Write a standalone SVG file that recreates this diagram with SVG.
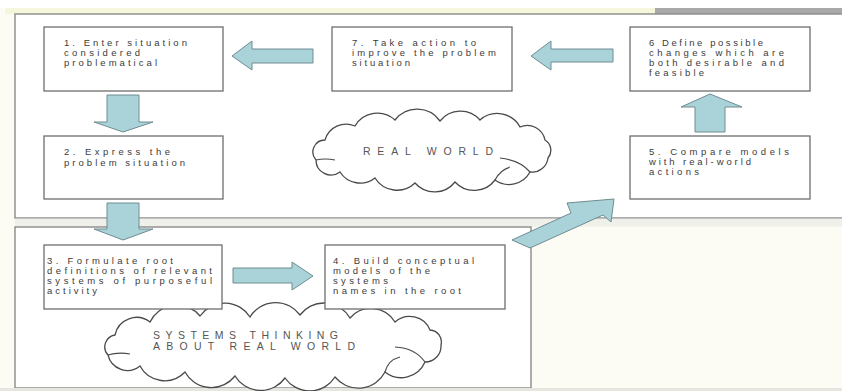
<svg xmlns="http://www.w3.org/2000/svg" width="842" height="391" viewBox="0 0 842 391">
<style>
.box{fill:#fff;stroke:#6e6e6e;stroke-width:1.3}
.t{font-family:"Liberation Sans",Arial,sans-serif;font-size:9.5px;fill:#3c3c3c}
.ct{font-family:"Liberation Sans",Arial,sans-serif;font-size:10.5px;fill:#555}
.arr{fill:#a9d3d8;stroke:#6f8c90;stroke-width:1}
.cloud{fill:#fff;stroke:#4a4a4a;stroke-width:1.3}
.inner{fill:none;stroke:#4a4a4a;stroke-width:1.2}
.frame{fill:#fff;stroke:#8a8a8a;stroke-width:1.4}
</style>
<rect x="0" y="0" width="842" height="391" fill="#fcfcf4"/>
<rect x="0" y="0" width="842" height="8" fill="#fff"/>
<rect x="5" y="8" width="650" height="6" fill="#f6f6dc"/>
<rect x="655" y="8" width="187" height="6" fill="#a8a8a8"/>
<g id="frames">
<rect x="15" y="14" width="840" height="204" class="frame"/>
<rect x="15" y="218.7" width="827" height="8" fill="#f0f0ea"/>
<rect x="15" y="227" width="516" height="161" class="frame"/>
<rect x="0" y="388" width="842" height="3" fill="#e6e6de"/>
</g>
<g id="connectors">
<polygon class="arr" points="107,95 139,95 139,122 153,122 123,132 94,122 107,122"/>
<polygon class="arr" points="107,203 139,203 139,229 153,229 123,240 94,229 107,229"/>
<polygon class="arr" points="313,49 313,63 252,63 252,70 232,56 252,41 252,49"/>
<polygon class="arr" points="613,49 613,62 551,62 551,70 531,56 551,41 551,49"/>
<polygon class="arr" points="695,132 725,132 725,107 742,107 710,94 681,107 695,107"/>
<polygon class="arr" points="233,268 292,268 292,262 313,276 292,290 292,283 233,283"/>
<polygon class="arr" points="512,240 571,213 567,203 614,199 611,222 603,215 530,248"/>
</g>
<g id="cloud-real">
<path class="cloud" d="M325,140 A22,22 0 0 1 355,126 A26,26 0 0 1 395,120 A28,28 0 0 1 440,121 A26,26 0 0 1 480,120 A26,26 0 0 1 520,127 A18,18 0 0 1 545,140 A12,12 0 0 1 548,158 A16,16 0 0 1 530,172 A24,24 0 0 1 495,180 A26,26 0 0 1 455,182 A26,26 0 0 1 415,183 A26,26 0 0 1 375,178 A24,24 0 0 1 340,172 A15,15 0 0 1 316,160 A12,12 0 0 1 325,140 Z"/>
<path class="inner" d="M316,160 Q325,158 335,160 M495,180 Q500,170 510,167 M530,172 Q520,160 500,158"/>
<text class="ct" x="363" y="155" textLength="130" lengthAdjust="spacing">REAL WORLD</text>
</g>
<g id="cloud-systems">
<path class="cloud" d="M115,335 A22,22 0 0 1 150,322 A30,30 0 0 1 200,316 A30,30 0 0 1 250,317 A30,30 0 0 1 300,315 A30,30 0 0 1 350,318 A28,28 0 0 1 395,322 A22,22 0 0 1 430,330 A12,12 0 0 1 441,345 A16,16 0 0 1 425,362 A26,26 0 0 1 385,372 A30,30 0 0 1 335,377 A30,30 0 0 1 285,378 A30,30 0 0 1 235,376 A30,30 0 0 1 185,372 A28,28 0 0 1 140,366 A20,20 0 0 1 108,355 A12,12 0 0 1 115,335 Z"/>
<path class="inner" d="M108,355 Q118,352 130,354 M385,372 Q388,360 400,357 M425,362 Q415,348 395,347"/>
<text class="ct" x="153" y="339" textLength="185" lengthAdjust="spacing">SYSTEMS THINKING</text>
<text class="ct" x="153" y="350" textLength="202" lengthAdjust="spacing">ABOUT REAL WORLD</text>
</g>
<g id="node1">
<rect class="box" x="44" y="27" width="179" height="64"/>
<text class="t" x="64" y="46" textLength="123" lengthAdjust="spacing">1. Enter situation</text>
<text class="t" x="64" y="56" textLength="76" lengthAdjust="spacing">considered</text>
<text class="t" x="64" y="66" textLength="93" lengthAdjust="spacing">problematical</text>
</g>
<g id="node2">
<rect class="box" x="44" y="136" width="179" height="63"/>
<text class="t" x="64" y="155" textLength="106" lengthAdjust="spacing">2. Express the</text>
<text class="t" x="64" y="166" textLength="121" lengthAdjust="spacing">problem situation</text>
</g>
<g id="node3">
<rect class="box" x="44" y="245" width="178" height="64"/>
<text class="t" x="47" y="264" textLength="126" lengthAdjust="spacing">3. Formulate root</text>
<text class="t" x="47" y="274" textLength="165" lengthAdjust="spacing">definitions of relevant</text>
<text class="t" x="47" y="284" textLength="165" lengthAdjust="spacing">systems of purposeful</text>
<text class="t" x="47" y="294" textLength="50" lengthAdjust="spacing">activity</text>
</g>
<g id="node4">
<rect class="box" x="325" y="245" width="180" height="64"/>
<text class="t" x="333" y="264" textLength="141" lengthAdjust="spacing">4. Build conceptual</text>
<text class="t" x="333" y="274" textLength="97" lengthAdjust="spacing">models of the</text>
<text class="t" x="333" y="284" textLength="55" lengthAdjust="spacing">systems</text>
<text class="t" x="333" y="294" textLength="128" lengthAdjust="spacing">names in the root</text>
</g>
<g id="node5">
<rect class="box" x="630" y="136" width="180" height="63"/>
<text class="t" x="649" y="155" textLength="140" lengthAdjust="spacing">5. Compare models</text>
<text class="t" x="649" y="165" textLength="102" lengthAdjust="spacing">with real-world</text>
<text class="t" x="649" y="175" textLength="50" lengthAdjust="spacing">actions</text>
</g>
<g id="node6">
<rect class="box" x="630" y="27" width="180" height="64"/>
<text class="t" x="649" y="46" textLength="114" lengthAdjust="spacing">6 Define possible</text>
<text class="t" x="649" y="56" textLength="135" lengthAdjust="spacing">changes which are</text>
<text class="t" x="649" y="66" textLength="135" lengthAdjust="spacing">both desirable and</text>
<text class="t" x="649" y="76" textLength="55" lengthAdjust="spacing">feasible</text>
</g>
<g id="node7">
<rect class="box" x="332" y="27" width="180" height="64"/>
<text class="t" x="352" y="46" textLength="124" lengthAdjust="spacing">7. Take action to</text>
<text class="t" x="352" y="56" textLength="144" lengthAdjust="spacing">improve the problem</text>
<text class="t" x="352" y="66" textLength="58" lengthAdjust="spacing">situation</text>
</g>
</svg>
